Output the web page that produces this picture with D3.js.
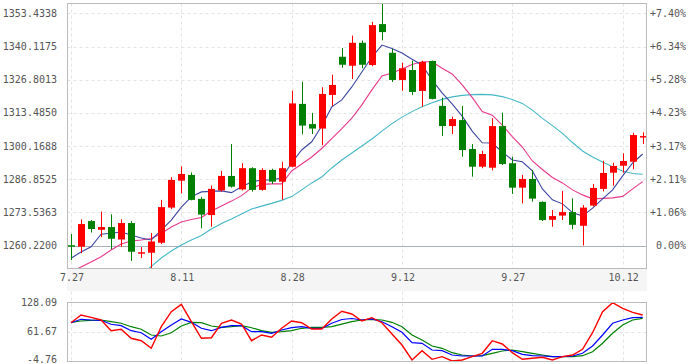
<!DOCTYPE html>
<html>
<head>
<meta charset="utf-8">
<script src="https://cdn.jsdelivr.net/npm/d3@7"></script>
<style>
  body { margin: 0; background: #fff; }
  svg { display: block; font-family: "DejaVu Sans Mono", monospace; font-size: 10px; }
</style>
</head>
<body>
<svg id="chart" width="690" height="364"></svg>
<script>
//* Data
const dates = ["7.27","7.28","7.31","8.1","8.2","8.3","8.4","8.7","8.8","8.9","8.10","8.11","8.14","8.15","8.16","8.17","8.18","8.21","8.22","8.23","8.24","8.25","8.28","8.29","8.30","8.31","9.1","9.4","9.5","9.6","9.7","9.8","9.11","9.12","9.13","9.14","9.15","9.18","9.19","9.20","9.21","9.22","9.25","9.26","9.27","9.28","9.29","10.2","10.3","10.4","10.5","10.6","10.9","10.10","10.11","10.12","10.13","10.16"];

const open = [1260.4,1259.8,1270.1,1266.6,1267.7,1262.7,1269.3,1257.0,1257.4,1261.4,
  1275.5,1286.3,1288.6,1279.0,1272.5,1282.4,1288.2,1282.8,1291.3,1282.6,
  1290.6,1285.9,1291.9,1317.1,1309.0,1307.2,1320.7,1336.0,1332.4,1341.6,
  1332.7,1349.1,1337.6,1326.7,1330.7,1322.3,1334.3,1316.3,1308.2,1310.6,
  1299.0,1291.9,1291.5,1308.2,1293.3,1283.5,1287.0,1277.8,1270.6,1272.3,
  1273.7,1268.2,1276.3,1283.0,1289.5,1292.3,1293.9,1303.7];
const high = [1264.9,1270.8,1270.5,1273.9,1272.8,1270.8,1270.1,1259.7,1265.3,1278.6,
  1287.7,1292.0,1289.6,1279.8,1284.4,1290.2,1301.0,1293.3,1291.7,1291.3,
  1291.1,1293.9,1322.4,1326.0,1313.5,1323.8,1328.8,1339.5,1344.5,1342.5,
  1350.0,1357.5,1339.2,1333.6,1334.4,1334.4,1334.5,1319.6,1312.0,1316.3,
  1301.0,1298.3,1311.4,1313.6,1295.9,1288.6,1290.6,1278.0,1274.5,1282.2,
  1279.2,1276.5,1285.0,1294.3,1293.5,1297.3,1305.5,1305.7];
const low = [1254.5,1257.2,1265.5,1263.6,1258.8,1259.8,1254.1,1255.3,1250.5,1260.9,
  1274.9,1281.2,1278.4,1267.2,1267.8,1281.9,1283.5,1282.4,1281.9,1282.3,
  1285.0,1278.6,1291.7,1304.9,1305.0,1300.5,1316.3,1331.6,1327.1,1331.4,
  1332.2,1342.6,1325.9,1322.3,1320.7,1316.0,1318.9,1304.2,1305.0,1295.9,
  1287.9,1291.3,1290.4,1292.6,1281.0,1277.2,1277.9,1270.1,1267.8,1270.5,
  1266.8,1260.3,1275.9,1282.0,1284.3,1289.5,1290.9,1301.0];
const close = [1259.8,1268.9,1266.9,1267.7,1263.0,1269.3,1257.8,1257.6,1261.9,1275.7,
  1286.6,1289.0,1278.6,1272.7,1283.0,1288.2,1283.9,1291.3,1282.6,1290.6,
  1285.9,1291.3,1317.3,1308.4,1307.2,1321.1,1324.7,1332.8,1341.6,1332.8,
  1348.7,1345.9,1326.7,1331.4,1321.9,1333.9,1319.1,1308.2,1311.0,1298.6,
  1291.9,1297.0,1308.2,1293.0,1283.5,1287.0,1279.1,1270.5,1272.1,1273.7,
  1268.6,1275.5,1283.4,1289.4,1292.2,1294.2,1304.6,1304.2];

const ma5 = [1255.2,1257.7,1259.8,1264.8,1265.2,1265.7,1264.5,1263.3,1262.5,1266.5,
  1270.5,1275.7,1279.8,1281.8,1282.0,1282.2,1281.5,1283.9,1285.8,1286.6,
  1286.6,1287.4,1293.4,1298.6,1301.9,1308.2,1315.9,1318.7,1323.9,1329.9,
  1335.9,1340.7,1339.3,1337.5,1335.0,1332.7,1326.7,1321.5,1317.1,1312.2,
  1306.2,1301.5,1301.4,1297.8,1294.6,1293.9,1290.2,1283.0,1278.6,1277.0,
  1273.5,1272.1,1275.3,1279.0,1282.6,1288.2,1293.4,1297.0];
const ma10 = [1249.7,1251.7,1253.7,1255.8,1258.5,1260.9,1262.1,1262.5,1263.1,1265.1,
  1267.7,1269.7,1270.7,1271.5,1274.1,1276.1,1278.1,1280.3,1283.4,1284.8,
  1285.0,1285.0,1290.2,1293.0,1295.8,1299.2,1303.2,1307.2,1311.4,1316.7,
  1322.7,1328.3,1329.5,1331.1,1332.9,1334.0,1334.0,1331.4,1329.1,1324.7,
  1319.7,1314.0,1312.6,1308.6,1304.0,1299.8,1294.2,1290.8,1287.6,1285.4,
  1282.6,1280.6,1279.0,1279.2,1279.4,1280.0,1283.0,1285.9];
const ma20 = [null,null,null,null,null,null,null,1248.5,1251.9,1255.3,
  1258.1,1260.5,1262.5,1264.3,1266.9,1269.1,1270.9,1272.9,1274.9,1276.1,
  1277.2,1278.4,1279.9,1282.6,1285.4,1287.8,1291.4,1294.6,1297.4,1300.2,
  1303.0,1306.2,1309.2,1311.8,1314.0,1316.0,1317.6,1318.9,1319.9,1320.5,
  1320.8,1320.9,1320.7,1320.0,1318.9,1317.3,1314.6,1311.3,1308.4,1305.3,
  1301.6,1298.2,1295.8,1293.8,1291.9,1290.2,1289.2,1288.9];

const kLine = [82.5,90.3,88.7,88.0,78.9,75.7,64.3,59.7,44.7,62.0,
  77.3,91.0,83.4,69.8,64.3,72.0,75.7,75.7,62.0,62.0,
  58.4,65.9,71.1,73.4,69.8,69.8,81.2,89.8,92.1,88.7,
  91.0,84.8,73.4,60.6,37.0,35.6,20.3,18.7,8.9,6.6,
  6.6,6.6,21.9,21.9,18.7,10.5,7.3,6.6,5.1,5.1,
  6.6,12.8,29.4,54.5,81.2,88.7,93.9,94.8];
const dLine = [83.4,86.4,88.0,88.7,84.8,81.2,73.4,67.5,54.5,52.2,
  59.7,75.0,83.4,82.5,75.0,72.0,73.4,75.7,71.1,64.3,
  60.6,62.0,64.3,69.8,72.0,72.0,73.4,79.1,84.8,88.7,
  90.3,88.7,83.4,73.4,54.5,43.1,29.4,24.2,14.2,8.9,
  6.6,7.3,12.8,18.0,20.3,16.4,12.8,8.9,5.1,5.1,
  5.1,7.3,16.4,35.6,58.4,77.3,88.7,92.5];
const jLine = [82.5,100.1,94.8,88.7,64.3,67.5,47.0,41.5,24.2,73.4,
  107.6,124.4,84.8,47.0,48.3,81.2,88.7,79.6,41.5,54.5,
  49.3,69.8,86.4,82.5,68.2,68.2,91.0,108.5,102.3,86.4,
  93.9,82.5,56.8,31.7,-2.5,18.7,-0.9,5.1,-4.76,-2.5,
  5.1,12.8,41.5,34.0,14.2,-0.9,1.4,3.7,-2.5,5.1,
  8.9,21.9,59.7,107.6,128.09,115.3,106.2,100.1];

const priceTicks = [1260.2200,1273.5363,1286.8525,1300.1688,1313.4850,1326.8013,1340.1175,1353.4338];
const pctTicks = ["0.00%","+1.06%","+2.11%","+3.17%","+4.23%","+5.28%","+6.34%","+7.40%"];
const xLabels = ["7.27","8.11","8.28","9.12","9.27","10.12"];
const kdjTicks = [128.09, 61.67, -4.76];

//* Layout
const plot = { left: 67.5, right: 646.5, top: 3.5, bottom: 268.5 };
const band = { top: 269, bottom: 291 };
const sub = { top: 302.5, bottom: 361.5 };

const colors = {
  up: "#ff0000", down: "#008000",
  ma5: "#3c46a2", ma10: "#e8388c", ma20: "#45b7c6",
  grid: "#e3e3e3", border: "#bbbbbb", base: "#a9afbb", text: "#555"
};

const svg = d3.select("#chart");

const x = d3.scalePoint().domain(dates).range([71, 642.7]);
const y = d3.scaleLinear().domain([1251.07, 1357.37]).range([plot.bottom, plot.top]);
const y2 = d3.scaleLinear().domain([-4.76, 128.09]).range([361, 302.7]);

svg.append("defs").append("clipPath").attr("id", "clipMain")
  .append("rect")
  .attr("x", plot.left).attr("y", plot.top)
  .attr("width", plot.right - plot.left).attr("height", plot.bottom - plot.top);
svg.select("defs").append("clipPath").attr("id", "clipSub")
  .append("rect")
  .attr("x", plot.left).attr("y", sub.top)
  .attr("width", plot.right - plot.left).attr("height", sub.bottom - sub.top);

//* vertical grid (main, gap and sub panel)
svg.append("g").selectAll("line").data(xLabels).join("line")
  .attr("x1", d => Math.round(x(d)) + 0.5).attr("x2", d => Math.round(x(d)) + 0.5)
  .attr("y1", plot.top).attr("y2", sub.bottom)
  .attr("stroke", colors.grid).attr("stroke-dasharray", "3,3");

//* horizontal grid of main chart
svg.append("g").selectAll("line").data(priceTicks.slice(1)).join("line")
  .attr("x1", plot.left).attr("x2", plot.right)
  .attr("y1", d => Math.round(y(d)) + 0.5).attr("y2", d => Math.round(y(d)) + 0.5)
  .attr("stroke", colors.grid).attr("stroke-dasharray", "3,3");

// base price line
svg.append("line")
  .attr("x1", plot.left).attr("x2", plot.right)
  .attr("y1", Math.round(y(priceTicks[0])) + 0.5).attr("y2", Math.round(y(priceTicks[0])) + 0.5)
  .attr("stroke", colors.base).attr("stroke-width", 1.2);

//* date band
svg.append("rect")
  .attr("x", plot.left - 0.5).attr("y", band.top)
  .attr("width", plot.right - plot.left + 1).attr("height", band.bottom - band.top)
  .attr("fill", "#f5f5f5");

svg.append("g").selectAll("text").data(xLabels).join("text")
  .attr("x", d => x(d) + 1).attr("y", 280.5)
  .attr("text-anchor", "middle").attr("fill", colors.text)
  .text(d => d);

//* moving averages
const main = svg.append("g").attr("clip-path", "url(#clipMain)");
const maLine = d3.line()
  .defined(v => v != null)
  .x((v, i) => x(dates[i]))
  .y(v => y(v));

[[ma20, colors.ma20], [ma10, colors.ma10], [ma5, colors.ma5]].forEach(([series, col]) => {
  main.append("path")
    .attr("d", maLine(series))
    .attr("fill", "none").attr("stroke", col).attr("stroke-width", 1.1);
});

//* candles
const candles = dates.map((d, i) => ({ date: d, o: open[i], h: high[i], l: low[i], c: close[i] }));
const candleColor = d => d.c >= d.o ? colors.up : colors.down;

main.append("g").selectAll("line").data(candles).join("line")
  .attr("x1", d => Math.round(x(d.date)) + 0.5).attr("x2", d => Math.round(x(d.date)) + 0.5)
  .attr("y1", d => y(d.h)).attr("y2", d => y(d.l))
  .attr("stroke", candleColor).attr("stroke-width", 1);

main.append("g").selectAll("rect").data(candles).join("rect")
  .attr("x", d => Math.round(x(d.date)) - 3)
  .attr("y", d => y(Math.max(d.o, d.c)))
  .attr("width", 7)
  .attr("height", d => Math.max(1.5, Math.abs(y(d.o) - y(d.c))))
  .attr("fill", candleColor);

//* main border
svg.append("rect")
  .attr("x", plot.left).attr("y", plot.top)
  .attr("width", plot.right - plot.left).attr("height", plot.bottom - plot.top)
  .attr("fill", "none").attr("stroke", colors.border);

//* price labels (left) and percent labels (right)
svg.append("g").selectAll("text").data(priceTicks).join("text")
  .attr("x", 57).attr("y", d => y(d) + 3.5)
  .attr("text-anchor", "end").attr("fill", colors.text)
  .text(d => d.toFixed(4));

svg.append("g").selectAll("text").data(priceTicks).join("text")
  .attr("x", 686).attr("y", d => y(d) + 3.5)
  .attr("text-anchor", "end").attr("fill", colors.text)
  .text((d, i) => pctTicks[i]);

//* KDJ panel
svg.append("line")
  .attr("x1", plot.left).attr("x2", plot.right)
  .attr("y1", Math.round(y2(kdjTicks[1])) + 0.5).attr("y2", Math.round(y2(kdjTicks[1])) + 0.5)
  .attr("stroke", colors.grid).attr("stroke-dasharray", "3,3");

const subG = svg.append("g").attr("clip-path", "url(#clipSub)");
const kdjLine = d3.line().x((v, i) => x(dates[i])).y(v => y2(v));

[[dLine, "#008000", 1.2], [kLine, "#0000ff", 1.2], [jLine, "#ff0000", 1.4]].forEach(([series, col, w]) => {
  subG.append("path")
    .attr("d", kdjLine(series))
    .attr("fill", "none").attr("stroke", col).attr("stroke-width", w);
});

svg.append("rect")
  .attr("x", plot.left).attr("y", sub.top)
  .attr("width", plot.right - plot.left).attr("height", sub.bottom - sub.top)
  .attr("fill", "none").attr("stroke", colors.border);

// bottom label kept inside the 364px frame
svg.append("g").selectAll("text").data(kdjTicks).join("text")
  .attr("x", 57).attr("y", d => Math.min(y2(d) + 3.5, 363))
  .attr("text-anchor", "end").attr("fill", colors.text)
  .text(d => d.toFixed(2));
</script>
</body>
</html>
